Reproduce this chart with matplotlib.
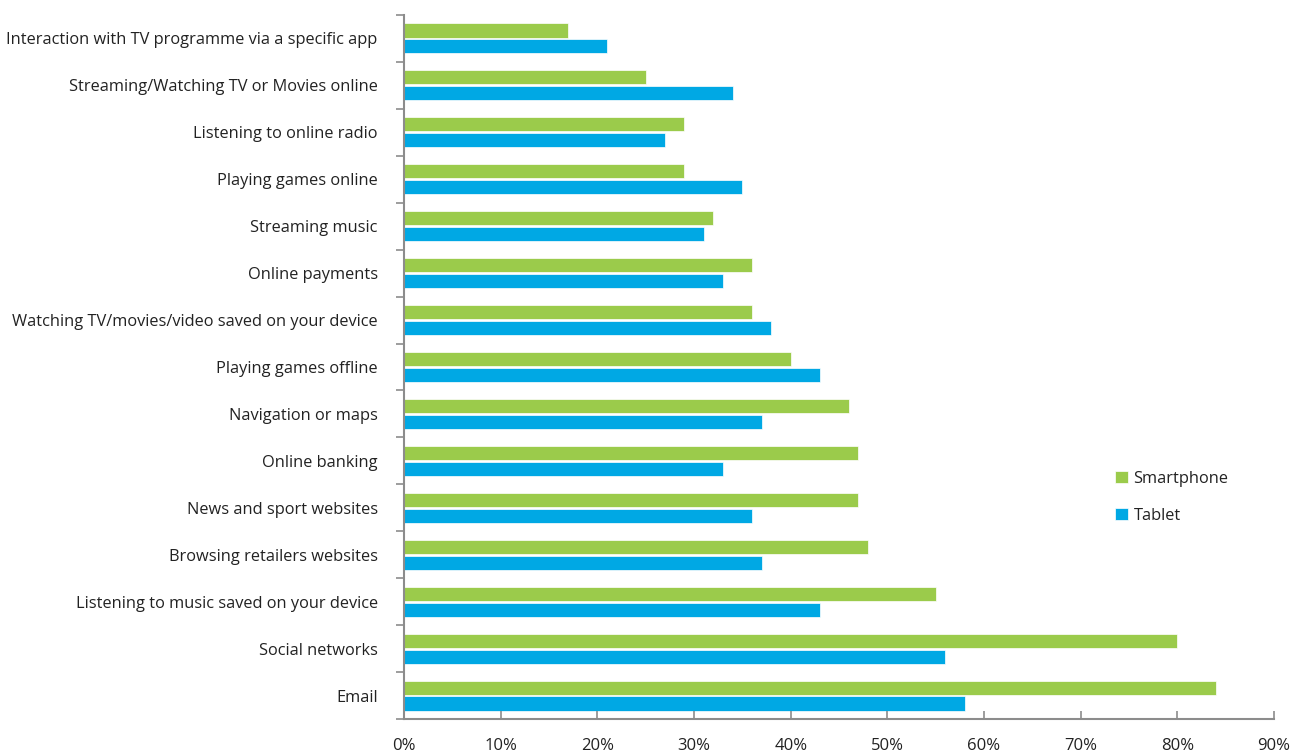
import numpy as np
import matplotlib
matplotlib.use("Agg")
import matplotlib.pyplot as plt
from matplotlib.ticker import FixedLocator, NullFormatter

# ---------- data (top to bottom) ----------
activities = [
    "Interaction with TV programme via a specific app",
    "Streaming/Watching TV or Movies online",
    "Listening to online radio",
    "Playing games online",
    "Streaming music",
    "Online payments",
    "Watching TV/movies/video saved on your device",
    "Playing games offline",
    "Navigation or maps",
    "Online banking",
    "News and sport websites",
    "Browsing retailers websites",
    "Listening to music saved on your device",
    "Social networks",
    "Email",
]
smartphone = [17, 25, 29, 29, 32, 36, 36, 40, 46, 47, 47, 48, 55, 80, 84]
tablet = [21, 34, 27, 35, 31, 33, 38, 43, 37, 33, 36, 37, 43, 56, 58]
x_ticks = [0, 10, 20, 30, 40, 50, 60, 70, 80, 90]

GREEN = "#9bcb4b"
BLUE = "#00a8e4"
AXIS = "#8c8c8c"
TEXT = "#222222"

plt.rcParams["font.family"] = ["Open Sans", "DejaVu Sans"]

fig = plt.figure(figsize=(12.97, 7.54), dpi=100)
ax = fig.add_axes([0.3115, 0.0464, 0.6708, 0.9337])

y = np.arange(len(activities))
h = 0.30
ax.barh(y - 0.17, smartphone, height=h, color=GREEN, edgecolor="white",
        linewidth=0.5, label="Smartphone")
ax.barh(y + 0.17, tablet, height=h, color=BLUE, edgecolor="white",
        linewidth=0.5, label="Tablet")

ax.set_ylim(len(activities) - 0.5, -0.5)
ax.set_xlim(0, 90)

# category labels centred, ticks on category boundaries
ax.set_yticks(y)
ax.set_yticklabels(activities, fontsize=11.75, color=TEXT)
ax.tick_params(axis="y", which="major", length=0, pad=19)
ax.yaxis.set_minor_locator(FixedLocator(np.arange(-0.5, len(activities), 1)))
ax.yaxis.set_minor_formatter(NullFormatter())
ax.tick_params(axis="y", which="minor", length=6, width=1.2, color=AXIS,
               direction="out")

ax.set_xticks(x_ticks)
ax.set_xticklabels([f"{t}%" for t in x_ticks], fontsize=12, color=TEXT)
ax.tick_params(axis="x", length=6, width=1.2, color=AXIS, direction="in",
               pad=14)

for s in ["top", "right"]:
    ax.spines[s].set_visible(False)
for s in ["left", "bottom"]:
    ax.spines[s].set_color(AXIS)
    ax.spines[s].set_linewidth(1.5)

leg = ax.legend(loc="center left", bbox_to_anchor=(0.80, 0.315), frameon=False,
                fontsize=11.75, handlelength=0.8, handleheight=0.8,
                handletextpad=0.35, labelspacing=1.3)
for t in leg.get_texts():
    t.set_color(TEXT)

fig.savefig("out.png", dpi=100)
